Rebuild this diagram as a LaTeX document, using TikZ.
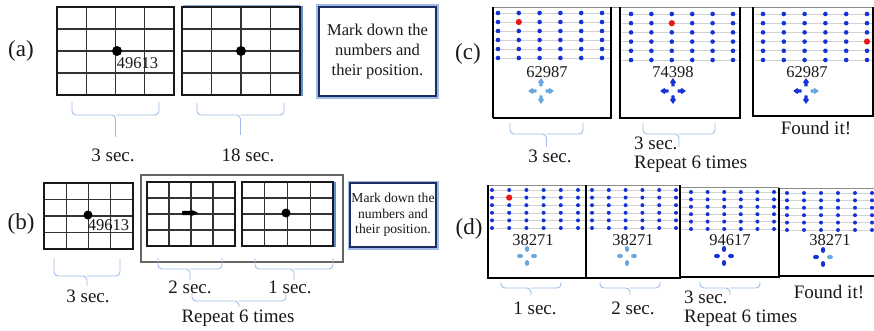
\documentclass[tikz,border=0pt]{standalone}
\usepackage{fontspec}
\setmainfont{Liberation Serif}
\usetikzlibrary{arrows.meta}
\definecolor{bracec}{RGB}{160,190,235}
\definecolor{dkblue}{RGB}{20,50,215}
\definecolor{ltblue}{RGB}{105,168,222}
\definecolor{redd}{RGB}{232,22,22}
\definecolor{navy}{RGB}{30,45,95}
\definecolor{glow}{RGB}{95,140,215}
\definecolor{rowgray}{RGB}{210,210,210}
\definecolor{txt}{RGB}{25,25,25}
\tikzset{
  gridl/.style={line width=1.1pt, black!80},
  gridb/.style={line width=1.4pt, black!90},
  bracestyle/.style={line width=0.9pt, bracec, rounded corners=4pt},
  lbl/.style={font=\fontsize{19}{21}\selectfont, text=txt, inner sep=0pt},
  num/.style={font=\fontsize{16.5}{18}\selectfont, text=txt, inner sep=0pt},
  panel/.style={font=\fontsize{23}{25}\selectfont, text=txt, inner sep=0pt},
  markbox/.style={draw=navy, line width=1.3pt, fill=white, align=center, text=txt,
     inner sep=0pt},
  rowline/.style={line width=0.6pt, rowgray},
  cbox/.style={line width=1.5pt, black},
  cboxthick/.style={line width=2.6pt, black},
  topline/.style={line width=0.8pt, black!45},
}
\newcommand\mygrid[4]{%
  \foreach \i in {1,2,3}{%
    \draw[gridl] ({#1+\i*(#3-#1)/4},#2) -- ({#1+\i*(#3-#1)/4},#4);
    \draw[gridl] (#1,{#2+\i*(#4-#2)/4}) -- (#3,{#2+\i*(#4-#2)/4});
  }%
  \draw[gridb] (#1,#2) rectangle (#3,#4);
}
\newcommand\mybrace[5]{%
  \draw[bracestyle] (#1,#3) -- (#1,#4) -- ({(#1+#2)/2},#4) -- ({(#1+#2)/2},#5);
  \draw[bracestyle] (#2,#3) -- (#2,#4) -- ({(#1+#2)/2},#4);
}
\newcommand\dotr{2.3pt}
\newcommand\dotgrid[8]{%
  \foreach \r in {0,...,5}{\draw[rowline] (#5,{#3+\r*#4}) -- (#6,{#3+\r*#4});}
  \foreach \c in {0,...,5}{\foreach \r in {0,...,5}{%
    \fill[dkblue] ({#1+\c*#2},{#3+\r*#4}) circle (\dotr);}}
  \ifnum#7>0 \fill[redd] ({#1+(#7-1)*#2},{#3+(#8-1)*#4}) circle (3.1pt);\fi
}
% one small arrow: cx cy angle colour
\newcommand\pcarrow[4]{%
  \begin{scope}[shift={(#1,#2)}, rotate=#3, x=1pt, y=1pt]
    \fill[#4, rounded corners=0.6pt] (4.5,-1.7) -- (8.2,-1.7) -- (8.2,-3.3) -- (13,0)
      -- (8.2,3.3) -- (8.2,1.7) -- (4.5,1.7) -- cycle;
  \end{scope}}
% cx cy up left right down
\newcommand\crossarrows[6]{%
  \pcarrow{#1}{#2}{90}{#3}\pcarrow{#1}{#2}{180}{#4}%
  \pcarrow{#1}{#2}{0}{#5}\pcarrow{#1}{#2}{270}{#6}}
\newcommand\crossdots[6]{%
  \fill[#3] (#1,{#2-7}) ellipse (2.2pt and 3pt);
  \fill[#4] ({#1-7},#2) ellipse (3pt and 2.2pt);
  \fill[#5] ({#1+7},#2) ellipse (3pt and 2.2pt);
  \fill[#6] (#1,{#2+7}) ellipse (2.2pt and 3pt);
}
\begin{document}
\begin{tikzpicture}[x=1pt,y=-1pt]
\useasboundingbox[fill=white] (0,0) rectangle (874,331);

% ================= (a) =================
\node[panel] (pa) at (21,51) {(a)};
\mygrid{57}{7}{174}{95}
\draw[line width=2pt, glow!70] (183,6) -- (300,6);
\draw[line width=2.6pt, glow] (301.5,6) -- (301.5,96);
\mygrid{182}{7}{300}{95}
\fill (117,51) circle (5pt);
\fill (241,51) circle (5pt);
\node[num] (na) at (137.5,63) {49613};
\draw[line width=3.5pt, glow!60] (318,6) rectangle (437,97);
\node[markbox, minimum width=117pt, minimum height=89pt,
  font=\fontsize{16.5}{20}\selectfont] (ma) at (377.5,51.5)
  {Mark down the\\numbers and\\their position.};
\mybrace{72}{159}{102}{115}{137}
\mybrace{197}{284}{103}{115}{135}
\node[lbl] (a3) at (113,155) {3 sec.};
\node[lbl] (a18) at (248,155) {18 sec.};

% ================= (b) =================
\node[panel] (pb) at (21,224) {(b)};
\mygrid{44}{183}{133}{249}
\fill (88,215) circle (4.5pt);
\node[num] (nb) at (108.5,225) {49613};
\draw[line width=1.5pt, black!60] (141,175) rectangle (343,262);
\mygrid{147}{182}{235}{246}
\draw[line width=2.4pt, glow] (335,182) -- (335,247);
\mygrid{242}{182}{333}{246}
\fill[rounded corners=1pt] (182,210.8) -- (192,210.8) -- (192,210) -- (198.5,213)
  -- (192,216) -- (192,215.2) -- (182,215.2) -- cycle;
\fill (286,213) circle (4.5pt);
\draw[line width=3pt, glow!60] (349,182) rectangle (437,248);
\node[markbox, minimum width=86pt, minimum height=64pt,
  font=\fontsize{13.6}{15.5}\selectfont] (mb) at (393,215)
  {Mark down the\\numbers and\\their position.};
\mybrace{54}{120}{258}{276}{286}
\mybrace{158}{222}{258}{269}{280}
\mybrace{255}{333}{258}{269}{280}
\mybrace{192}{286}{293}{301}{307}
\node[lbl] (b3) at (88,296) {3 sec.};
\node[lbl] (b2) at (190,287) {2 sec.};
\node[lbl] (b1) at (290,287) {1 sec.};
\node[lbl] (br) at (238,318) {Repeat 6 times};

% ================= (c) =================
\node[panel] (pc) at (468,54) {(c)};
\dotgrid{498}{20.8}{13}{9}{494}{610}{2}{2}
\dotgrid{631}{20.4}{14}{9.2}{622}{738}{3}{2}
\dotgrid{763}{20.8}{14}{9.2}{755}{872}{6}{4}
\draw[topline] (493,7) -- (874,7);
\draw[cbox] (493,7) -- (493,118);
\draw[cboxthick] (611,7) -- (611,118) -- (493,118);
\draw[cboxthick] (620,7) -- (620,118) -- (740,118) -- (740,7);
\draw[cboxthick] (753,7) -- (753,116) -- (874,116);
\draw[cboxthick] (873,7) -- (873,116);
\node[num] (c1n) at (547,72) {62987};
\node[num] (c2n) at (673,72) {74398};
\node[num] (c3n) at (807,72) {62987};
\crossarrows{541}{91}{ltblue}{ltblue}{ltblue}{ltblue}
\crossarrows{673}{91}{dkblue}{dkblue}{dkblue}{dkblue}
\crossarrows{806}{91}{dkblue}{dkblue}{ltblue}{dkblue}
\mybrace{510}{583}{123}{134}{147}
\mybrace{643}{715}{123}{134}{147}
\node[lbl] (c3) at (550,156) {3 sec.};
\node[lbl, anchor=west] (c3b) at (634,143) {3 sec.};
\node[lbl, anchor=west] (cr) at (634,164) {Repeat 6 times};
\node[lbl] (cf) at (816,128) {Found it!};

% ================= (d) =================
\node[panel] (pd) at (469,229) {(d)};
\renewcommand\dotr{2pt}
\dotgrid{492}{17.2}{190}{7.6}{489}{585}{2}{2}
\dotgrid{592}{16.8}{190}{7.6}{587}{679}{0}{0}
\dotgrid{691}{16.6}{192}{7.4}{681}{778}{0}{0}
\dotgrid{787}{17}{193}{7.4}{780}{874}{0}{0}
\draw[topline] (488,185) -- (680,185) (680,187) -- (779,187) (779,188) -- (874,188);
\draw[cbox] (488,185) -- (488,278) -- (586,278) -- (586,185);
\draw[cbox] (586,278) -- (680,278) -- (680,185);
\draw[cboxthick] (680,187) -- (680,277) -- (779,277) -- (779,188);
\draw[cboxthick] (779,276) -- (874,276);
\node[num] (d1n) at (533,240) {38271};
\node[num] (d2n) at (633,240) {38271};
\node[num] (d3n) at (730,240) {94617};
\node[num] (d4n) at (830,240) {38271};
\crossdots{527}{256}{ltblue}{ltblue}{ltblue}{ltblue}
\crossdots{627}{256}{ltblue}{ltblue}{ltblue}{ltblue}
\crossdots{724}{256}{dkblue}{dkblue}{dkblue}{dkblue}
\crossdots{823}{257}{dkblue}{dkblue}{ltblue}{dkblue}
\mybrace{501}{561}{282}{288}{295}
\mybrace{600}{660}{282}{288}{295}
\mybrace{700}{760}{282}{288}{295}
\node[lbl] (d1) at (535,308) {1 sec.};
\node[lbl] (d2) at (633,308) {2 sec.};
\node[lbl, anchor=west] (d3) at (684,297) {3 sec.};
\node[lbl, anchor=west] (dr) at (684,318) {Repeat 6 times};
\node[lbl] (df) at (829,292) {Found it!};
\end{tikzpicture}
\end{document}
